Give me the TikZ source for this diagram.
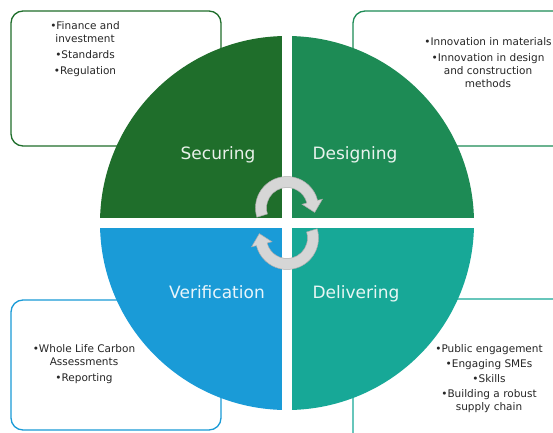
\documentclass[tikz,border=0pt]{standalone}
\usepackage{fontspec}
\setmainfont{DejaVu Sans}
\usepackage{tikz}
\definecolor{securegreen}{HTML}{1F6E2B}
\definecolor{designgreen}{HTML}{1D8B55}
\definecolor{verifyblue}{HTML}{1A9BD7}
\definecolor{deliverteal}{HTML}{17A897}
\definecolor{cyclegray}{HTML}{D6D6D6}
\definecolor{itemink}{HTML}{262626}
\tikzset{
  themebox/.style={rounded corners=12pt, line width=1.3pt, fill=white},
  pillar/.style={anchor=base, text=white, text opacity=0.9, inner sep=0pt, font=\fontsize{17}{20}\selectfont},
  itemlist/.style={align=center, text=itemink, inner sep=0pt, font=\fontsize{10.5}{13}\selectfont},
  cyclearrow/.style={fill=cyclegray, draw=gray!65, line width=0.5pt},
}

\begin{document}
\begin{tikzpicture}[x=1pt,y=1pt]
  \useasboundingbox (0,0) rectangle (553,432);
  \clip (0,0) rectangle (553,432);
  \fill[white] (0,0) rectangle (553,432);
  % boxes behind the wheel
  \draw[themebox,draw=securegreen] (11,286) rectangle (221,421);
  \draw[themebox,draw=designgreen] (353,286) rectangle (580,421);
  \draw[themebox,draw=verifyblue] (11,2) rectangle (221,132);
  \draw[themebox,draw=deliverteal] (353,-20) rectangle (580,133);
  % the four quarters, split by a white cross
  \coordinate (hub) at (287,209);
  \begin{scope}
    \clip (hub) circle (187);
    \fill[securegreen] (hub) ++(-5,5) rectangle ++(-200,200);
    \fill[designgreen] (hub) ++(5,5) rectangle ++(200,200);
    \fill[verifyblue] (hub) ++(-5,-5) rectangle ++(-200,-200);
    \fill[deliverteal] (hub) ++(5,-5) rectangle ++(200,-200);
  \end{scope}
  % turning arrows in the middle
  \begin{scope}[shift={(287,224)}]
    \path[cyclearrow] (197:31.5) arc[start angle=197, end angle=14, radius=31.5]
      -- (14:36.5) -- (-9:28) -- (14:15.5) -- (14:20.5)
      arc[start angle=14, end angle=197, radius=20.5] -- cycle;
  \end{scope}
  \begin{scope}[shift={(287,194)}, rotate=180]
    \path[cyclearrow] (197:31.5) arc[start angle=197, end angle=14, radius=31.5]
      -- (14:36.5) -- (-9:28) -- (14:15.5) -- (14:20.5)
      arc[start angle=14, end angle=197, radius=20.5] -- cycle;
  \end{scope}
  \node[pillar] (securing) at (218,273) {Securing};
  \node[pillar] (designing) at (355,273) {Designing};
  \node[pillar] (verification) at (217,134) {Verification};
  \node[pillar] (delivering) at (356,134) {Delivering};
  % lists in the corner boxes
  \node[itemlist] (secureitems) at (85,383) {•Finance and\\investment\\[3pt]•Standards\\[3pt]•Regulation};
  \node[itemlist] (designitems) at (488,369) {•Innovation in materials\\[3pt]•Innovation in design\\and construction\\methods};
  \node[itemlist] (verifyitems) at (84,68) {•Whole Life Carbon\\Assessments\\[3pt]•Reporting};
  \node[itemlist] (deliveritems) at (489,53) {•Public engagement\\[2pt]•Engaging SMEs\\[2pt]•Skills\\[2pt]•Building a robust\\supply chain};
\end{tikzpicture}
\end{document}
